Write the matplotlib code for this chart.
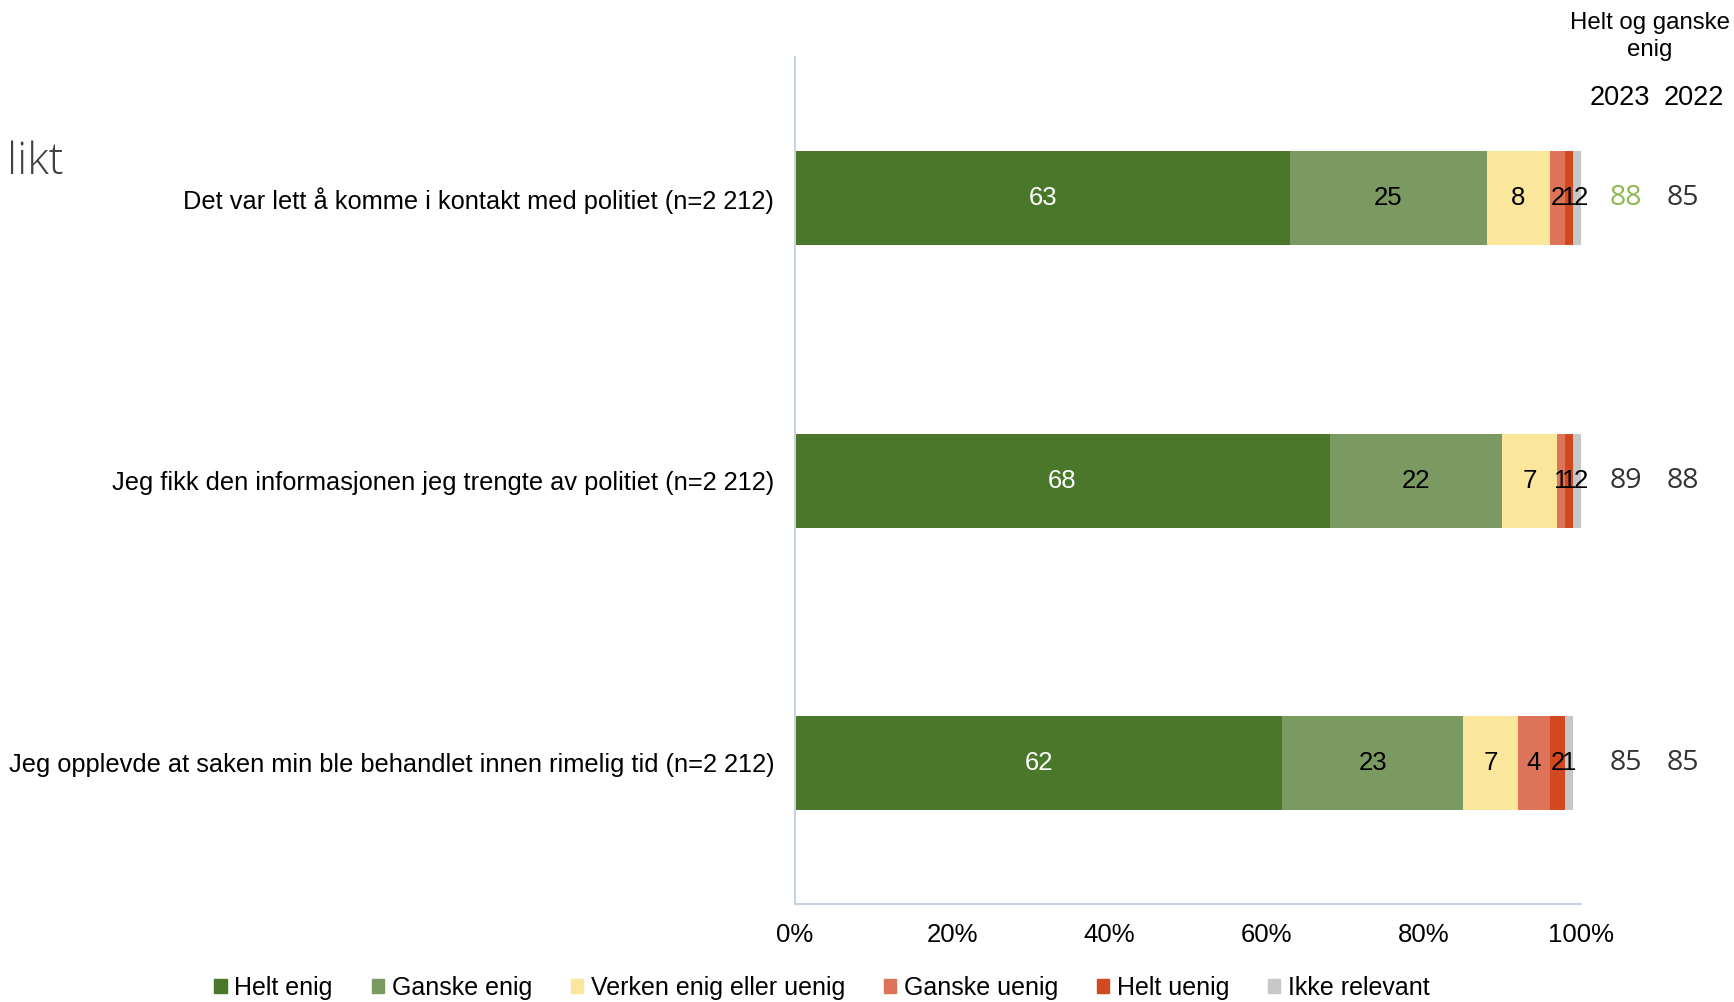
import numpy as np
import matplotlib
matplotlib.use("Agg")
from matplotlib import pyplot as plt
import matplotlib.patches as mpatches

plt.rcParams['font.family'] = ['Liberation Sans', 'DejaVu Sans']

# data
statements = [
    "Det var lett å komme i kontakt med politiet (n=2 212)",
    "Jeg fikk den informasjonen jeg trengte av politiet (n=2 212)",
    "Jeg opplevde at saken min ble behandlet innen rimelig tid (n=2 212)",
]
categories = ["Helt enig", "Ganske enig", "Verken enig eller uenig",
              "Ganske uenig", "Helt uenig", "Ikke relevant"]
helt_enig = [63, 68, 62]
ganske_enig = [25, 22, 23]
verken = [8, 7, 7]
ganske_uenig = [2, 1, 4]
helt_uenig = [1, 1, 2]
ikke_relevant = [2, 2, 1]
agree_2023 = [88, 89, 85]
agree_2022 = [85, 88, 85]
pct_ticks = [0, 20, 40, 60, 80, 100]

colors = ["#4A7729", "#7A9A61", "#FAE79B", "#DD7359", "#D2481F", "#C6C7C9"]
text_colors = ["white", "black", "black", "black", "black", "black"]

series = [helt_enig, ganske_enig, verken, ganske_uenig, helt_uenig, ikke_relevant]

fig = plt.figure(figsize=(17.34, 10.02), dpi=100)
ax = fig.add_axes([0.4585, 0.0978, 0.4533, 0.8453])

y = np.arange(len(statements))
left = np.zeros(len(statements))
for vals, col, tcol in zip(series, colors, text_colors):
    vals = np.array(vals, dtype=float)
    ax.barh(y, vals, left=left, height=0.333, color=col, edgecolor="none")
    for yi, (l, v) in enumerate(zip(left, vals)):
        ax.text(l + v / 2, yi, f"{int(v)}", ha="center", va="center",
                fontsize=18.5, color=tcol)
    left += vals

ax.set_xlim(0, 100)
ax.set_ylim(2.5, -0.5)
ax.set_yticks(y)
ax.set_yticklabels(statements, fontsize=18.3)
ax.set_xticks(pct_ticks)
ax.set_xticklabels([f"{t}%" for t in pct_ticks], fontsize=18.5)
ax.tick_params(axis="both", length=0)
ax.tick_params(axis="y", pad=15)
ax.tick_params(axis="x", pad=14)
for s in ["top", "right"]:
    ax.spines[s].set_visible(False)
for s in ["left", "bottom"]:
    ax.spines[s].set_color("#C8D3E2")
    ax.spines[s].set_linewidth(1.5)

# right hand columns
fig.text(0.9515, 0.988, "Helt og ganske\nenig", ha="center", va="top",
         fontsize=17.3, linespacing=1.3)
ax.text(104.9, -0.355, "2023", ha="center", va="center", fontsize=19.5, clip_on=False)
ax.text(114.4, -0.355, "2022", ha="center", va="center", fontsize=19.5, clip_on=False)
for yi, (a, b) in enumerate(zip(agree_2023, agree_2022)):
    c23 = "#8DB750" if yi == 0 else "#333333"
    ax.text(105.7, yi, str(a), ha="center", va="center", fontsize=20.5,
            family="Open Sans", color=c23, clip_on=False)
    ax.text(112.9, yi, str(b), ha="center", va="center", fontsize=20.5,
            family="Open Sans", color="#333333", clip_on=False)

fig.text(0.004, 0.838, "likt", fontsize=32, family="Open Sans",
         fontweight="light", color="#404040", va="center", ha="left")

handles = [mpatches.Patch(color=c, label=l) for c, l in zip(colors, categories)]
fig.legend(handles=handles, loc="center", bbox_to_anchor=(0.474, 0.014),
           ncol=6, frameon=False, fontsize=18, handlelength=0.5,
           handleheight=0.5, handletextpad=0.3, columnspacing=1.55)

plt.savefig("out.png", dpi=100)
